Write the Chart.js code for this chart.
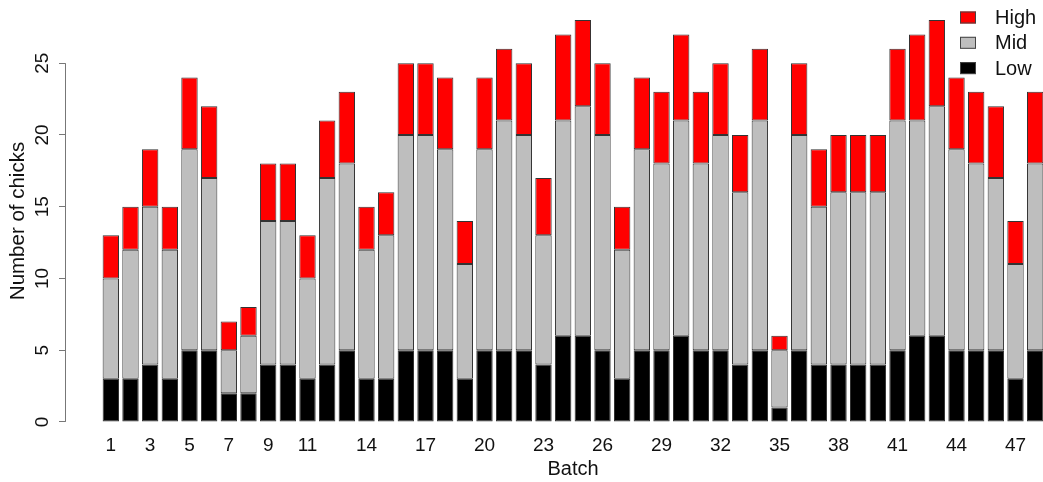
<!DOCTYPE html>
<html>
<head>
<meta charset="utf-8">
<script src="https://cdn.jsdelivr.net/npm/chart.js@4/dist/chart.umd.min.js"></script>
<style>
  html, body { margin: 0; padding: 0; background: #fff; overflow: hidden; }
  #wrap { width: 1100px; height: 482px; position: relative; }
</style>
</head>
<body>
<div id="wrap"><canvas id="chicks"></canvas></div>
<script>
// Data
const batches = [];
for (let b = 1; b <= 48; b++) batches.push(b);

const low  = [3, 3, 4, 3, 5, 5, 2, 2, 4, 4, 3, 4, 5, 3, 3, 5, 5, 5, 3, 5, 5, 5, 4, 6,
              6, 5, 3, 5, 5, 6, 5, 5, 4, 5, 1, 5, 4, 4, 4, 4, 5, 6, 6, 5, 5, 5, 3, 5];
const mid  = [7, 9, 11, 9, 14, 12, 3, 4, 10, 10, 7, 13, 13, 9, 10, 15, 15, 14, 8, 14, 16, 15, 9, 15,
              16, 15, 9, 14, 13, 15, 13, 15, 12, 16, 4, 15, 11, 12, 12, 12, 16, 15, 16, 14, 13, 12, 8, 13];
const high = [3, 3, 4, 3, 5, 5, 2, 2, 4, 4, 3, 4, 5, 3, 3, 5, 5, 5, 3, 5, 5, 5, 4, 6,
              6, 5, 3, 5, 5, 6, 5, 5, 4, 5, 1, 5, 4, 4, 4, 4, 5, 6, 6, 5, 5, 5, 3, 5];

const xTicks = [1, 3, 5, 7, 9, 11, 14, 17, 20, 23, 26, 29, 32, 35, 38, 41, 44, 47];
const yTicks = [0, 5, 10, 15, 20, 25];

const legendItems = [
    { label: 'High', color: '#ff0000' },
    { label: 'Mid', color: '#bebebe' },
    { label: 'Low', color: '#000000' }
];

const FONT = "'Liberation Sans', Arial, sans-serif";

function toPoints(values) {
    return batches.map((b, i) => ({ x: b, y: values[i] }));
}

// y axis line only spans the tick range, like base R
const axisLine = {
    id: 'axisLine',
    afterDraw(chart) {
        const { ctx } = chart;
        const y = chart.scales.y;
        const x = Math.round(chart.chartArea.left) + 0.5;
        ctx.save();
        ctx.strokeStyle = '#777';
        ctx.lineWidth = 1;
        ctx.beginPath();
        ctx.moveTo(x, y.getPixelForValue(yTicks[0]));
        ctx.lineTo(x, y.getPixelForValue(yTicks[yTicks.length - 1]));
        ctx.stroke();
        ctx.restore();
    }
};

// legend drawn inside the plot, top right
const boxLegend = {
    id: 'boxLegend',
    afterDraw(chart) {
        const { ctx } = chart;
        ctx.save();
        ctx.font = '20px ' + FONT;
        ctx.textBaseline = 'middle';
        ctx.textAlign = 'left';
        legendItems.forEach((item, i) => {
            const cy = 17.5 + i * 25.3;
            ctx.fillStyle = item.color;
            ctx.fillRect(960, cy - 6, 16, 12);
            ctx.strokeStyle = '#444';
            ctx.lineWidth = 1;
            ctx.strokeRect(960.5, cy - 5.5, 15, 11);
            ctx.fillStyle = '#111';
            ctx.fillText(item.label, 995, cy + 1);
        });
        ctx.restore();
    }
};

const barStyle = {
    borderColor: '#333',
    borderWidth: 1,
    borderSkipped: false,
    categoryPercentage: 1,
    barPercentage: 1 / 1.2
};

new Chart(document.getElementById('chicks'), {
    type: 'bar',
    data: {
        datasets: [
            Object.assign({ label: 'Low', data: toPoints(low), backgroundColor: '#000000' }, barStyle),
            Object.assign({ label: 'Mid', data: toPoints(mid), backgroundColor: '#bebebe' }, barStyle),
            Object.assign({ label: 'High', data: toPoints(high), backgroundColor: '#ff0000' }, barStyle)
        ]
    },
    options: {
        responsive: true,
        maintainAspectRatio: false,
        animation: false,
        events: [],
        layout: { padding: { top: 4, right: 19, left: 0, bottom: 0 } },
        plugins: {
            legend: { display: false },
            tooltip: { enabled: false }
        },
        scales: {
            x: {
                type: 'linear',
                stacked: true,
                min: -1.33,
                max: 50.33,
                offset: false,
                grid: { display: false, drawTicks: false },
                border: { display: false },
                afterBuildTicks: scale => { scale.ticks = xTicks.map(v => ({ value: v })); },
                afterFit: scale => {
                    scale.height = 44;
                    scale.paddingLeft = 0;
                    scale.paddingRight = 0;
                },
                ticks: {
                    autoSkip: false,
                    maxRotation: 0,
                    padding: -4,
                    color: '#111',
                    font: { family: FONT, size: 19 }
                },
                title: {
                    display: true,
                    text: 'Batch',
                    color: '#111',
                    font: { family: FONT, size: 20 },
                    padding: { top: 0, bottom: 1 }
                }
            },
            y: {
                stacked: true,
                min: -1.12,
                max: 29.12,
                grid: { display: true, drawOnChartArea: false, drawTicks: true, tickLength: 6, color: '#777' },
                border: { display: false },
                afterBuildTicks: scale => { scale.ticks = yTicks.map(v => ({ value: v })); },
                afterFit: scale => {
                    scale.width = 65;
                    scale.paddingTop = 0;
                    scale.paddingBottom = 0;
                },
                ticks: {
                    minRotation: 90,
                    maxRotation: 90,
                    crossAlign: 'center',
                    padding: 6,
                    color: '#111',
                    font: { family: FONT, size: 19 }
                },
                title: {
                    display: true,
                    text: 'Number of chicks',
                    color: '#111',
                    font: { family: FONT, size: 20.5 },
                    padding: { top: 6, bottom: 0 }
                }
            }
        }
    },
    plugins: [axisLine, boxLegend]
});
</script>
</body>
</html>
